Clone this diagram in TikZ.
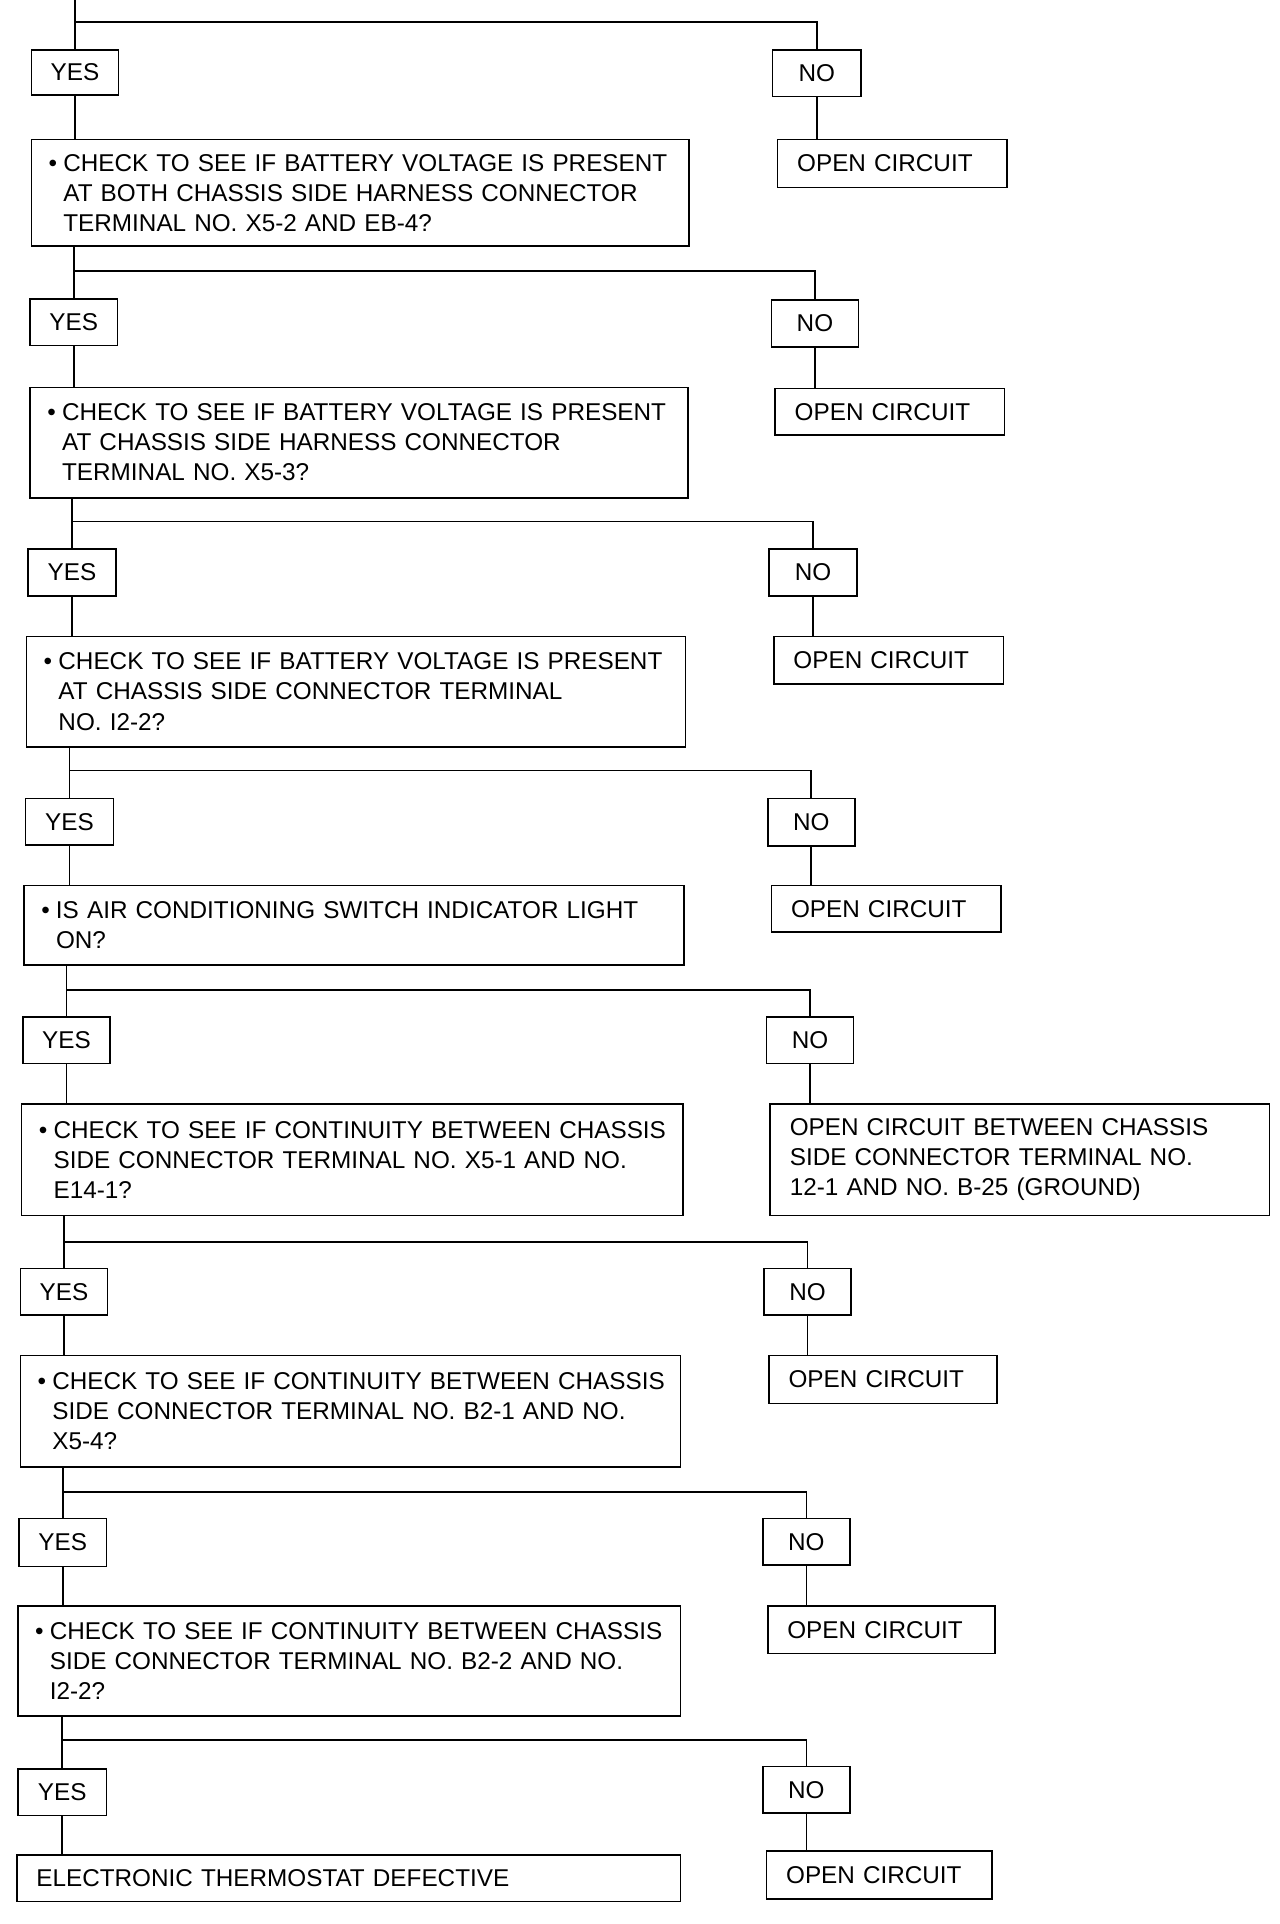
\documentclass[tikz,border=0pt]{standalone}
\usepackage{fontspec}
\setmainfont{Liberation Sans}
\newcommand{\bulln}{\hspace*{14pt}\makebox[12pt][l]{•}}
\newcommand{\contln}{\hspace*{26pt}}
\newcommand{\padln}{\hspace*{16pt}}
\tikzset{
  fbox/.style={draw, line width=1.3pt, anchor=north west, inner sep=0pt,
    font=\fontsize{19.8}{24.5}\selectfont},
  lbl/.style={fbox, align=center},
  txt/.style={fbox, align=left},
  conn/.style={line width=1.3pt}
}
\begin{document}
\begin{tikzpicture}[x=1pt,y=-1pt]
\useasboundingbox (0,0) rectangle (1043,1568);

% ---------- section 1
\node[lbl, minimum width=71pt, minimum height=37pt] (yes1) at (25,40) {YES};
\node[lbl, minimum width=72pt, minimum height=38pt] (no1) at (629,40) {NO};
\node[txt, text width=187pt, minimum height=39pt] (open1) at (633,113) {\padln OPEN CIRCUIT};
\node[txt, text width=536pt, minimum height=87pt] (main1) at (25,113)
  {\bulln CHECK TO SEE IF BATTERY VOLTAGE IS PRESENT\\
   \contln AT BOTH CHASSIS SIDE HARNESS CONNECTOR\\
   \contln TERMINAL NO. X5-2 AND EB-4?};
\coordinate (t0) at (yes1.north |- 0,0);
\coordinate (j1) at (yes1.north |- 0,18);

% ---------- section 2
\node[lbl, minimum width=71pt, minimum height=38pt] (yes2) at (24,243) {YES};
\node[lbl, minimum width=71pt, minimum height=38pt] (no2) at (628,244) {NO};
\node[txt, text width=187pt, minimum height=38pt] (open2) at (631,316) {\padln OPEN CIRCUIT};
\node[txt, text width=536pt, minimum height=90pt] (main2) at (24,315)
  {\bulln CHECK TO SEE IF BATTERY VOLTAGE IS PRESENT\\
   \contln AT CHASSIS SIDE HARNESS CONNECTOR\\
   \contln TERMINAL NO. X5-3?};
\coordinate (j2) at (yes2.north |- 0,221);

% ---------- section 3
\node[lbl, minimum width=72pt, minimum height=38pt] (yes3) at (22,447) {YES};
\node[lbl, minimum width=72pt, minimum height=38pt] (no3) at (626,447) {NO};
\node[txt, text width=187pt, minimum height=39pt] (open3) at (630,518) {\padln OPEN CIRCUIT};
\node[txt, text width=537pt, minimum height=90pt] (main3) at (21,518)
  {\bulln CHECK TO SEE IF BATTERY VOLTAGE IS PRESENT\\
   \contln AT CHASSIS SIDE CONNECTOR TERMINAL\\
   \contln NO. I2-2?};
\coordinate (j3) at (yes3.north |- 0,425);

% ---------- section 4
\node[lbl, minimum width=72pt, minimum height=38pt] (yes4) at (20,650) {YES};
\node[lbl, minimum width=71pt, minimum height=39pt] (no4) at (625,650) {NO};
\node[txt, text width=187pt, minimum height=38pt] (open4) at (628,721) {\padln OPEN CIRCUIT};
\node[txt, text width=538pt, minimum height=65pt] (main4) at (19,721)
  {\bulln IS AIR CONDITIONING SWITCH INDICATOR LIGHT\\
   \contln ON?};
\coordinate (j4) at (yes4.north |- 0,628);

% ---------- section 5
\node[lbl, minimum width=71pt, minimum height=38pt] (yes5) at (18,828) {YES};
\node[lbl, minimum width=71pt, minimum height=38pt] (no5) at (624,828) {NO};
\node[txt, text width=407pt, minimum height=91pt] (wide5) at (627,899)
  {\padln OPEN CIRCUIT BETWEEN CHASSIS\\
   \padln SIDE CONNECTOR TERMINAL NO.\\
   \padln 12-1 AND NO. B-25 (GROUND)};
\node[txt, text width=539pt, minimum height=91pt] (main5) at (17,899)
  {\bulln CHECK TO SEE IF CONTINUITY BETWEEN CHASSIS\\
   \contln SIDE CONNECTOR TERMINAL NO. X5-1 AND NO.\\
   \contln E14-1?};
\coordinate (j5) at (yes5.north |- 0,807);

% ---------- section 6
\node[lbl, minimum width=71pt, minimum height=38pt] (yes6) at (16,1033) {YES};
\node[lbl, minimum width=71pt, minimum height=38pt] (no6) at (622,1033) {NO};
\node[txt, text width=186pt, minimum height=39pt] (open6) at (626,1104) {\padln OPEN CIRCUIT};
\node[txt, text width=538pt, minimum height=91pt] (main6) at (16,1104)
  {\bulln CHECK TO SEE IF CONTINUITY BETWEEN CHASSIS\\
   \contln SIDE CONNECTOR TERMINAL NO. B2-1 AND NO.\\
   \contln X5-4?};
\coordinate (j6) at (yes6.north |- 0,1012);

% ---------- section 7
\node[lbl, minimum width=71pt, minimum height=39pt] (yes7) at (15,1237) {YES};
\node[lbl, minimum width=71pt, minimum height=38pt] (no7) at (621,1237) {NO};
\node[txt, text width=185pt, minimum height=39pt] (open7) at (625,1308) {\padln OPEN CIRCUIT};
\node[txt, text width=540pt, minimum height=90pt] (main7) at (14,1308)
  {\bulln CHECK TO SEE IF CONTINUITY BETWEEN CHASSIS\\
   \contln SIDE CONNECTOR TERMINAL NO. B2-2 AND NO.\\
   \contln I2-2?};
\coordinate (j7) at (yes7.north |- 0,1216);

% ---------- section 8
\node[lbl, minimum width=72pt, minimum height=38pt] (yes8) at (14,1441) {YES};
\node[lbl, minimum width=71pt, minimum height=38pt] (no8) at (621,1439) {NO};
\node[txt, text width=184pt, minimum height=39pt] (open8) at (624,1508) {\padln OPEN CIRCUIT};
\node[txt, text width=541pt, minimum height=38pt] (final) at (13,1511)
  {\padln ELECTRONIC THERMOSTAT DEFECTIVE};
\coordinate (j8) at (yes8.north |- 0,1418);

% ---------- connectors
\draw[conn] (t0) -- (yes1.north);
\draw[conn] (j1) -| (no1.north);
\draw[conn] (yes1.south) -- (yes1.south |- main1.north);
\draw[conn] (no1.south) -- (no1.south |- open1.north);

\draw[conn] (yes2.north |- main1.south) -- (yes2.north);
\draw[conn] (j2) -| (no2.north);
\draw[conn] (yes2.south) -- (yes2.south |- main2.north);
\draw[conn] (no2.south) -- (no2.south |- open2.north);

\draw[conn] (yes3.north |- main2.south) -- (yes3.north);
\draw[conn] (j3) -| (no3.north);
\draw[conn] (yes3.south) -- (yes3.south |- main3.north);
\draw[conn] (no3.south) -- (no3.south |- open3.north);

\draw[conn] (yes4.north |- main3.south) -- (yes4.north);
\draw[conn] (j4) -| (no4.north);
\draw[conn] (yes4.south) -- (yes4.south |- main4.north);
\draw[conn] (no4.south) -- (no4.south |- open4.north);

\draw[conn] (yes5.north |- main4.south) -- (yes5.north);
\draw[conn] (j5) -| (no5.north);
\draw[conn] (yes5.south) -- (yes5.south |- main5.north);
\draw[conn] (no5.south) -- (no5.south |- wide5.north);

\draw[conn] (yes6.north |- main5.south) -- (yes6.north);
\draw[conn] (j6) -| (no6.north);
\draw[conn] (yes6.south) -- (yes6.south |- main6.north);
\draw[conn] (no6.south) -- (no6.south |- open6.north);

\draw[conn] (yes7.north |- main6.south) -- (yes7.north);
\draw[conn] (j7) -| (no7.north);
\draw[conn] (yes7.south) -- (yes7.south |- main7.north);
\draw[conn] (no7.south) -- (no7.south |- open7.north);

\draw[conn] (yes8.north |- main7.south) -- (yes8.north);
\draw[conn] (j8) -| (no8.north);
\draw[conn] (yes8.south) -- (yes8.south |- final.north);
\draw[conn] (no8.south) -- (no8.south |- open8.north);
\end{tikzpicture}
\end{document}
